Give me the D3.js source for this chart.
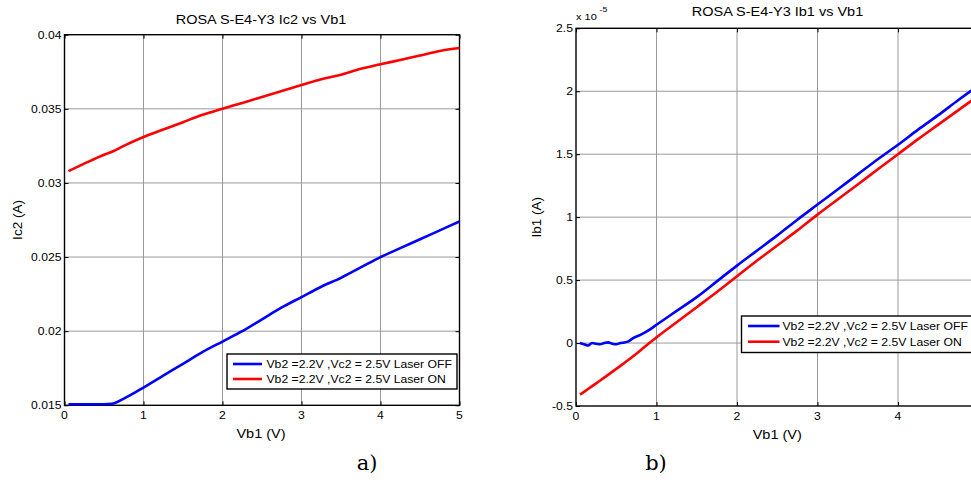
<!DOCTYPE html>
<html>
<head>
<meta charset="utf-8">
<script src="https://cdn.jsdelivr.net/npm/d3@7"></script>
<style>
  html, body { margin: 0; padding: 0; background: #fff; }
  svg { display: block; }
  text { font-family: "Liberation Sans", Arial, Helvetica, sans-serif; fill: #000; }
</style>
</head>
<body>
<svg id="chart" width="971" height="492"></svg>
<script>
// ---------- DATA ----------
// Panel a) Ic2 vs Vb1 (A)
const xIc2 = [0.05, 0.25, 0.5, 0.6, 0.75, 1.0, 1.25, 1.5, 1.75, 2.0, 2.25, 2.5, 2.75, 3.0, 3.25, 3.5, 3.75, 4.0, 4.25, 4.5, 4.75, 5.0];
const ic2Off = [0.01507, 0.01507, 0.01507, 0.0151, 0.01545, 0.0162, 0.0170, 0.0178, 0.0186, 0.0193, 0.0200, 0.0208, 0.0216, 0.0223, 0.0230, 0.0236, 0.0243, 0.0250, 0.0256, 0.0262, 0.0268, 0.0274];
const ic2On  = [0.0308, 0.0313, 0.0319, 0.0321, 0.0325, 0.0331, 0.0336, 0.0341, 0.0346, 0.0350, 0.0354, 0.0358, 0.0362, 0.0366, 0.0370, 0.0373, 0.0377, 0.0380, 0.0383, 0.0386, 0.0389, 0.0391];

// Panel b) Ib1 vs Vb1 (values in units of 1e-5 A)
const xIb1Off = [0.05, 0.1, 0.15, 0.2, 0.25, 0.3, 0.35, 0.4, 0.45, 0.5, 0.55, 0.6, 0.65, 0.7, 0.8, 0.9, 1.0, 1.25, 1.5, 1.75, 2.0, 2.25, 2.5, 2.75, 3.0, 3.25, 3.5, 3.75, 4.0, 4.25, 4.5, 4.75, 5.0];
const ib1Off  = [0.0, -0.01, -0.02, 0.0, -0.005, -0.01, 0.0, 0.005, -0.005, -0.01, 0.0, 0.005, 0.013, 0.035, 0.065, 0.10, 0.145, 0.255, 0.365, 0.49, 0.615, 0.735, 0.855, 0.98, 1.10, 1.22, 1.34, 1.46, 1.575, 1.695, 1.81, 1.93, 2.045];
const xIb1On = [0.05, 0.15, 0.25, 0.35, 0.5, 0.75, 0.9, 1.0, 1.25, 1.5, 1.75, 2.0, 2.25, 2.5, 2.75, 3.0, 3.25, 3.5, 3.75, 4.0, 4.25, 4.5, 4.75, 5.0];
const ib1On  = [-0.41, -0.365, -0.32, -0.275, -0.205, -0.085, -0.005, 0.045, 0.165, 0.285, 0.405, 0.53, 0.655, 0.775, 0.895, 1.02, 1.14, 1.26, 1.38, 1.50, 1.62, 1.735, 1.85, 1.965];

const xTicks = [0, 1, 2, 3, 4, 5];
const ic2Ticks = [0.015, 0.02, 0.025, 0.03, 0.035, 0.04];
const ib1Ticks = [-0.5, 0, 0.5, 1, 1.5, 2, 2.5];
const legendLabels = ["Vb2 =2.2V ,Vc2 = 2.5V Laser OFF", "Vb2 =2.2V ,Vc2 = 2.5V Laser ON"];
const seriesColors = ["#0000ff", "#ff0000"];

// ---------- DRAW ----------
const W = 971;
const svg = d3.select("#chart");
const SX = 1.16; // horizontal stretch of the original figure's text

function txt(g, x, y, s, size, anchor) {
  return g.append("text")
    .attr("transform", `translate(${x},${y}) scale(${SX},1)`)
    .attr("text-anchor", anchor || "start")
    .style("font-size", size + "px")
    .text(s);
}

function panel(cfg) {
  const g = svg.append("g");
  const x = d3.scaleLinear().domain([0, 5]).range([cfg.x0, cfg.x1]);
  const y = d3.scaleLinear().domain(cfg.yDomain).range([cfg.y1, cfg.y0]);

  // grid
  g.append("g").selectAll("line").data(xTicks.slice(1, -1)).join("line")
    .attr("x1", d => x(d)).attr("x2", d => x(d)).attr("y1", cfg.y0).attr("y2", cfg.y1)
    .attr("stroke", "#9a9a9a").attr("stroke-width", 1);
  g.append("g").selectAll("line").data(cfg.yTicks.slice(1, -1)).join("line")
    .attr("y1", d => y(d)).attr("y2", d => y(d)).attr("x1", cfg.x0).attr("x2", cfg.x1)
    .attr("stroke", "#9a9a9a").attr("stroke-width", 1);

  // axes via d3 axis (inward ticks)
  const tl = 4;
  const ax = g.append("g").attr("transform", `translate(0,${cfg.y1})`)
    .call(d3.axisBottom(x).tickValues(xTicks).tickSize(-tl).tickFormat(""));
  const axT = g.append("g").attr("transform", `translate(0,${cfg.y0})`)
    .call(d3.axisTop(x).tickValues(xTicks).tickSize(-tl).tickFormat(""));
  const ay = g.append("g").attr("transform", `translate(${cfg.x0},0)`)
    .call(d3.axisLeft(y).tickValues(cfg.yTicks).tickSize(-tl).tickFormat(""));
  const ayR = g.append("g").attr("transform", `translate(${cfg.x1},0)`)
    .call(d3.axisRight(y).tickValues(cfg.yTicks).tickSize(-tl).tickFormat(""));
  [ax, axT, ay, ayR].forEach(a => {
    a.select(".domain").remove();
    a.selectAll("line").attr("stroke", "#000").attr("stroke-width", 1);
  });
  // box
  g.append("rect").attr("x", cfg.x0).attr("y", cfg.y0)
    .attr("width", cfg.x1 - cfg.x0).attr("height", cfg.y1 - cfg.y0)
    .attr("fill", "none").attr("stroke", "#000").attr("stroke-width", 1.4);

  // tick labels (only those inside the visible page, like the cropped reference)
  xTicks.filter(t => x(t) + 4 < W)
    .forEach(t => txt(g, x(t), cfg.y1 + 13.5, String(t), 10.5, "middle"));
  cfg.yTicks.forEach(t => txt(g, cfg.x0 - 3, y(t) + 4, cfg.yFmt(t), 10.5, "end"));

  // lines
  const line = d3.line().x(d => x(d[0])).y(d => y(d[1])).curve(d3.curveMonotoneX);
  cfg.series.forEach((s, i) => {
    g.append("path").datum(s.xs.map((v, k) => [v, s.ys[k]]))
      .attr("d", line).attr("fill", "none")
      .attr("stroke", seriesColors[i]).attr("stroke-width", 2.6)
      .attr("stroke-linejoin", "round");
  });

  // title & labels
  txt(g, cfg.titleX, cfg.titleY, cfg.title, 12.5, "middle");
  txt(g, (cfg.x0 + cfg.x1) / 2 - (cfg.xlabShift || 0), cfg.y1 + 33, "Vb1 (V)", 12.5, "middle");
  g.append("text")
    .attr("transform", `translate(${cfg.ylabX},${(cfg.y0 + cfg.y1) / 2}) rotate(-90)`)
    .attr("text-anchor", "middle").style("font-size", "13.5px").text(cfg.ylab);

  // legend
  const L = cfg.legend;
  g.append("rect").attr("x", L.x).attr("y", L.y).attr("width", L.w).attr("height", L.h)
    .attr("fill", "#fff").attr("stroke", "#000").attr("stroke-width", 1.4);
  legendLabels.forEach((lab, i) => {
    const yy = L.y + L.row0 + i * L.dy;
    g.append("line").attr("x1", L.x + L.lx0).attr("x2", L.x + L.lx1)
      .attr("y1", yy).attr("y2", yy)
      .attr("stroke", seriesColors[i]).attr("stroke-width", 2.6);
    txt(g, L.x + L.tx, yy + 3.8, lab, 10.5, "start");
  });
  return {g, x, y};
}

panel({
  x0: 64.5, x1: 459.5, y0: 34.7, y1: 405.3,
  yDomain: [0.015, 0.04], yTicks: ic2Ticks, yFmt: d => String(d),
  series: [{xs: xIc2, ys: ic2Off}, {xs: xIc2, ys: ic2On}],
  title: "ROSA S-E4-Y3 Ic2 vs Vb1", titleX: 261, titleY: 24.3,
  ylab: "Ic2 (A)", ylabX: 21.5, xlabShift: 1,
  legend: {x: 227, y: 354, w: 230, h: 35, row0: 10, dy: 15, lx0: 6, lx1: 35, tx: 39.5}
});

const right = panel({
  x0: 576, x1: 978.5, y0: 28.3, y1: 406,
  yDomain: [-0.5, 2.5], yTicks: ib1Ticks, yFmt: d => String(d),
  series: [{xs: xIb1Off, ys: ib1Off}, {xs: xIb1On, ys: ib1On}],
  title: "ROSA S-E4-Y3 Ib1 vs Vb1", titleX: 777.5, titleY: 16.3,
  ylab: "Ib1 (A)", ylabX: 540.5, xlabShift: 0,
  legend: {x: 741.5, y: 316, w: 234, h: 36.5, row0: 10, dy: 15.7, lx0: 6.5, lx1: 38, tx: 41}
});
// exponent label
txt(right.g, 576, 19.5, "x 10", 9.5, "start");
txt(right.g, 599.5, 12, "-5", 7.5, "start");

// panel captions
svg.append("text").attr("x", 367).attr("y", 470).attr("text-anchor", "middle")
  .style("font-family", "'DejaVu Serif', 'Liberation Serif', serif").style("font-size", "21px").text("a)");
svg.append("text").attr("x", 656).attr("y", 470).attr("text-anchor", "middle")
  .style("font-family", "'DejaVu Serif', 'Liberation Serif', serif").style("font-size", "21px").text("b)");
</script>
</body>
</html>
